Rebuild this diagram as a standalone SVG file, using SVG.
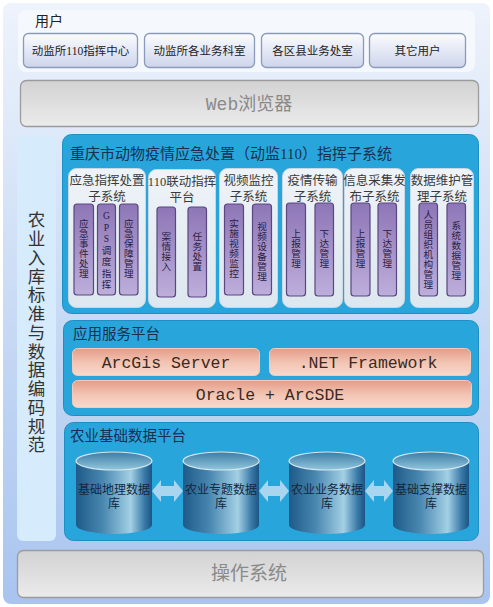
<svg xmlns="http://www.w3.org/2000/svg" width="493" height="607" viewBox="0 0 493 607">
<defs>
<linearGradient id="gBg" x1="0" y1="0" x2="0" y2="1"><stop offset="0" stop-color="#eef3fc"/><stop offset="0.5" stop-color="#c9dbf5"/><stop offset="1" stop-color="#a8c4ef"/></linearGradient>
<linearGradient id="gUser" x1="0" y1="0" x2="0" y2="1"><stop offset="0" stop-color="#fbfcfe"/><stop offset="1" stop-color="#cdd5ec"/></linearGradient>
<linearGradient id="gGray" x1="0" y1="0" x2="0" y2="1"><stop offset="0" stop-color="#d2d2d2"/><stop offset="1" stop-color="#ebebeb"/></linearGradient>
<linearGradient id="gPurple" x1="0" y1="0" x2="0" y2="1"><stop offset="0" stop-color="#8e76b6"/><stop offset="1" stop-color="#bdaedb"/></linearGradient>
<linearGradient id="gCard" x1="0" y1="0" x2="0" y2="1"><stop offset="0" stop-color="#eef3f7"/><stop offset="1" stop-color="#dde7ef"/></linearGradient>
<linearGradient id="gSalmon" x1="0" y1="0" x2="0" y2="1"><stop offset="0" stop-color="#e39c88"/><stop offset="0.5" stop-color="#f2c3b2"/><stop offset="1" stop-color="#f8d9cc"/></linearGradient>
<linearGradient id="gCyl" x1="0" y1="0" x2="1" y2="0"><stop offset="0" stop-color="#1f5a88"/><stop offset="0.35" stop-color="#4887b0"/><stop offset="0.72" stop-color="#a3d0e4"/><stop offset="0.9" stop-color="#3a7aa8"/><stop offset="1" stop-color="#1b5584"/></linearGradient>
<linearGradient id="gCylTop" x1="0" y1="0" x2="0" y2="1"><stop offset="0" stop-color="#3c7ca6"/><stop offset="1" stop-color="#92c6dc"/></linearGradient>
<style>
.cjk{font-family:"Noto Sans CJK SC",sans-serif;}
.ser{font-family:"Liberation Serif","Noto Sans CJK SC",serif;}
.ubox{fill:url(#gUser);stroke:#8a9aba;stroke-width:1.3;}
.ulabel{font-size:11.5px;fill:#222;text-anchor:middle;}
.gray{fill:url(#gGray);stroke:#9c9c9c;stroke-width:1.3;}
.graylabel{font-size:19px;fill:#8a8a8a;text-anchor:middle;}
.panel{fill:#28a6dc;stroke:#1c8fc4;stroke-width:1;}
.ptitle{font-size:14.5px;fill:#17304f;}
.card{fill:url(#gCard);stroke:#c7d7e3;stroke-width:1;}
.ctitle{font-size:12.5px;fill:#3a3a3a;text-anchor:middle;}
.bar{fill:url(#gPurple);stroke:#5a4680;stroke-width:1.2;}
.btext{font-size:9.6px;fill:#2a2040;text-anchor:middle;}
.salmon{fill:url(#gSalmon);stroke:#f3c9b9;stroke-width:1;}
.mono{font-family:"Liberation Mono",monospace;font-size:16.5px;fill:#3a2a22;text-anchor:middle;}
.cylbody{fill:url(#gCyl);}
.cyltop{fill:url(#gCylTop);stroke:#cfe7f2;stroke-width:1.2;}
.cyltext{font-size:12px;fill:#14283e;text-anchor:middle;}
.darrow{fill:#a9d6ee;}
.vert{font-size:17.5px;fill:#333;writing-mode:vertical-rl;letter-spacing:1.25px;}
</style>
</defs>

<g id="background">
<rect x="3" y="3" width="487" height="601" rx="8" fill="url(#gBg)"/>
</g>

<g id="users">
<rect x="18" y="10" width="457" height="62" rx="8" fill="#f5f8fd" fill-opacity="0.92"/>
<text x="35" y="26" class="cjk" font-size="14" fill="#222">用户</text>
</g>
<g id="user-110">
<rect x="23.5" y="33.5" width="114" height="34" rx="5" class="ubox"/>
<text x="80.5" y="55" class="ser ulabel">动监所110指挥中心</text>
</g>
<g id="user-depts">
<rect x="144.5" y="33.5" width="110" height="34" rx="5" class="ubox"/>
<text x="199.5" y="55" class="ser ulabel">动监所各业务科室</text>
</g>
<g id="user-county">
<rect x="261.5" y="33.5" width="102" height="34" rx="5" class="ubox"/>
<text x="312.5" y="55" class="ser ulabel">各区县业务处室</text>
</g>
<g id="user-other">
<rect x="369.5" y="33.5" width="96" height="34" rx="5" class="ubox"/>
<text x="417.5" y="55" class="ser ulabel">其它用户</text>
</g>

<g id="web-browser">
<rect x="20.5" y="80.5" width="458" height="46" rx="6" class="gray"/>
<text x="249" y="110" class="graylabel" style="font-family:'Liberation Mono','Noto Sans CJK SC',monospace;font-size:18px;">Web浏览器</text>
</g>

<g id="standards">
<rect x="17" y="136" width="39" height="405" rx="6" fill="#d6ebfc"/>
<text x="36.5" y="211" class="cjk vert">农业入库标准与数据编码规范</text>
</g>

<g id="command-system">
<rect x="62.5" y="134.5" width="416" height="179" rx="9" class="panel"/>
<text x="70" y="159" class="ser ptitle" style="font-size:15px;">重庆市动物疫情应急处置（动监110）指挥子系统</text>
</g>

<g id="sub-emergency">
<rect x="68.5" y="168.5" width="77" height="139" rx="8" class="card"/>
<text x="107" y="185" class="ser ctitle">应急指挥处置</text>
<text x="107" y="201" class="ser ctitle">子系统</text>
<rect x="74" y="204" width="19.5" height="91" rx="3" class="bar"/>
<rect x="97.5" y="204" width="18" height="91" rx="3" class="bar"/>
<rect x="119.5" y="204" width="18.5" height="91" rx="3" class="bar"/>
<text class="ser btext"><tspan x="83.8" y="227">应</tspan><tspan x="83.8" y="237">急</tspan><tspan x="83.8" y="247">事</tspan><tspan x="83.8" y="257">件</tspan><tspan x="83.8" y="267">处</tspan><tspan x="83.8" y="277">理</tspan></text>
<text class="ser btext"><tspan x="106.5" y="219">G</tspan><tspan x="106.5" y="230.5">P</tspan><tspan x="106.5" y="242">S</tspan><tspan x="106.5" y="253.5">调</tspan><tspan x="106.5" y="265">度</tspan><tspan x="106.5" y="276.5">指</tspan><tspan x="106.5" y="288">挥</tspan></text>
<text class="ser btext"><tspan x="128.8" y="227">应</tspan><tspan x="128.8" y="237">急</tspan><tspan x="128.8" y="247">保</tspan><tspan x="128.8" y="257">障</tspan><tspan x="128.8" y="267">管</tspan><tspan x="128.8" y="277">理</tspan></text>
</g>

<g id="sub-110">
<rect x="148.5" y="169.5" width="67" height="138" rx="8" class="card"/>
<text x="182" y="186" class="ser ctitle">110联动指挥</text>
<text x="182" y="202" class="ser ctitle">平台</text>
<rect x="157" y="207" width="18.5" height="90" rx="3" class="bar"/>
<rect x="188" y="207" width="18.5" height="90" rx="3" class="bar"/>
<text class="ser btext"><tspan x="166.2" y="240">案</tspan><tspan x="166.2" y="250">情</tspan><tspan x="166.2" y="260">接</tspan><tspan x="166.2" y="270">入</tspan></text>
<text class="ser btext"><tspan x="197.2" y="240">任</tspan><tspan x="197.2" y="250">务</tspan><tspan x="197.2" y="260">处</tspan><tspan x="197.2" y="270">置</tspan></text>
</g>

<g id="sub-video">
<rect x="219.5" y="168.5" width="58" height="139" rx="8" class="card"/>
<text x="248.5" y="185" class="ser ctitle">视频监控</text>
<text x="248.5" y="201" class="ser ctitle">子系统</text>
<rect x="224.5" y="204" width="19" height="91" rx="3" class="bar"/>
<rect x="252.5" y="204" width="19" height="91" rx="3" class="bar"/>
<text class="ser btext"><tspan x="234" y="227">实</tspan><tspan x="234" y="237">施</tspan><tspan x="234" y="247">视</tspan><tspan x="234" y="257">频</tspan><tspan x="234" y="267">监</tspan><tspan x="234" y="277">控</tspan></text>
<text class="ser btext"><tspan x="262" y="230">视</tspan><tspan x="262" y="240">频</tspan><tspan x="262" y="250">设</tspan><tspan x="262" y="260">备</tspan><tspan x="262" y="270">管</tspan><tspan x="262" y="280">理</tspan></text>
</g>

<g id="sub-transfer">
<rect x="282.5" y="168.5" width="60" height="139" rx="8" class="card"/>
<text x="312.5" y="185" class="ser ctitle">疫情传输</text>
<text x="312.5" y="201" class="ser ctitle">子系统</text>
<rect x="286.5" y="203" width="19" height="93" rx="3" class="bar"/>
<rect x="315" y="203" width="18.5" height="93" rx="3" class="bar"/>
<text class="ser btext"><tspan x="296" y="237">上</tspan><tspan x="296" y="247">报</tspan><tspan x="296" y="257">管</tspan><tspan x="296" y="267">理</tspan></text>
<text class="ser btext"><tspan x="324.2" y="237">下</tspan><tspan x="324.2" y="247">达</tspan><tspan x="324.2" y="257">管</tspan><tspan x="324.2" y="267">理</tspan></text>
</g>

<g id="sub-collect">
<rect x="344.5" y="168.5" width="60" height="139" rx="8" class="card"/>
<text x="374.5" y="185" class="ser ctitle">信息采集发</text>
<text x="374.5" y="201" class="ser ctitle">布子系统</text>
<rect x="351" y="203" width="19" height="93" rx="3" class="bar"/>
<rect x="378" y="203" width="18.5" height="93" rx="3" class="bar"/>
<text class="ser btext"><tspan x="360.5" y="237">上</tspan><tspan x="360.5" y="247">报</tspan><tspan x="360.5" y="257">管</tspan><tspan x="360.5" y="267">理</tspan></text>
<text class="ser btext"><tspan x="387.2" y="237">下</tspan><tspan x="387.2" y="247">达</tspan><tspan x="387.2" y="257">管</tspan><tspan x="387.2" y="267">理</tspan></text>
</g>

<g id="sub-maintain">
<rect x="410.5" y="168.5" width="63" height="139" rx="8" class="card"/>
<text x="442" y="185" class="ser ctitle">数据维护管</text>
<text x="442" y="201" class="ser ctitle">理子系统</text>
<rect x="419" y="203" width="18.5" height="93" rx="3" class="bar"/>
<rect x="447" y="203" width="18.5" height="93" rx="3" class="bar"/>
<text class="ser btext"><tspan x="428.2" y="218">人</tspan><tspan x="428.2" y="228">员</tspan><tspan x="428.2" y="238">组</tspan><tspan x="428.2" y="248">织</tspan><tspan x="428.2" y="258">机</tspan><tspan x="428.2" y="268">构</tspan><tspan x="428.2" y="278">管</tspan><tspan x="428.2" y="288">理</tspan></text>
<text class="ser btext"><tspan x="456.2" y="229">系</tspan><tspan x="456.2" y="239">统</tspan><tspan x="456.2" y="249">数</tspan><tspan x="456.2" y="259">据</tspan><tspan x="456.2" y="269">管</tspan><tspan x="456.2" y="279">理</tspan></text>
</g>

<g id="app-platform">
<rect x="63.5" y="320.5" width="415" height="95" rx="9" class="panel"/>
<text x="73" y="339" class="cjk ptitle">应用服务平台</text>
</g>
<g id="arcgis">
<rect x="72.5" y="348.5" width="187" height="27" rx="5" class="salmon"/>
<text x="166" y="368" class="mono">ArcGis Server</text>
</g>
<g id="dotnet">
<rect x="269.5" y="348.5" width="201" height="27" rx="5" class="salmon"/>
<text x="368" y="368" class="mono">.NET Framework</text>
</g>
<g id="oracle">
<rect x="72.5" y="380.5" width="399" height="27" rx="5" class="salmon"/>
<text x="270" y="400" class="mono">Oracle + ArcSDE</text>
</g>

<g id="data-platform">
<rect x="64.5" y="422.5" width="414" height="118" rx="9" class="panel"/>
<text x="70" y="441" class="cjk ptitle">农业基础数据平台</text>
</g>

<g id="db-geo">
<rect x="76" y="461" width="76" height="64" class="cylbody"/>
<ellipse cx="114" cy="525" rx="38" ry="9" class="cylbody"/>
<ellipse cx="114" cy="461" rx="38" ry="9" class="cyltop"/>
<text x="114" y="494" class="ser cyltext">基础地理数据</text>
<text x="114" y="508" class="ser cyltext">库</text>
</g>
<g id="db-topic">
<rect x="183" y="461" width="76" height="64" class="cylbody"/>
<ellipse cx="221" cy="525" rx="38" ry="9" class="cylbody"/>
<ellipse cx="221" cy="461" rx="38" ry="9" class="cyltop"/>
<text x="221" y="494" class="ser cyltext">农业专题数据</text>
<text x="221" y="508" class="ser cyltext">库</text>
</g>
<g id="db-business">
<rect x="289" y="461" width="76" height="64" class="cylbody"/>
<ellipse cx="327" cy="525" rx="38" ry="9" class="cylbody"/>
<ellipse cx="327" cy="461" rx="38" ry="9" class="cyltop"/>
<text x="327" y="494" class="ser cyltext">农业业务数据</text>
<text x="327" y="508" class="ser cyltext">库</text>
</g>
<g id="db-support">
<rect x="393" y="461" width="76" height="64" class="cylbody"/>
<ellipse cx="431" cy="525" rx="38" ry="9" class="cylbody"/>
<ellipse cx="431" cy="461" rx="38" ry="9" class="cyltop"/>
<text x="431" y="494" class="ser cyltext">基础支撑数据</text>
<text x="431" y="508" class="ser cyltext">库</text>
</g>

<g id="connectors">
<path class="darrow" d="M152,491 L161,480 L161,486 L174,486 L174,480 L183,491 L174,502 L174,496 L161,496 L161,502 Z"/>
<path class="darrow" d="M259,491 L268,480 L268,486 L280,486 L280,480 L289,491 L280,502 L280,496 L268,496 L268,502 Z"/>
<path class="darrow" d="M365,491 L374,480 L374,486 L384,486 L384,480 L393,491 L384,502 L384,496 L374,496 L374,502 Z"/>
</g>

<g id="os">
<rect x="17.5" y="550.5" width="466" height="47" rx="6" class="gray"/>
<text x="249" y="580" class="cjk graylabel">操作系统</text>
</g>
</svg>
